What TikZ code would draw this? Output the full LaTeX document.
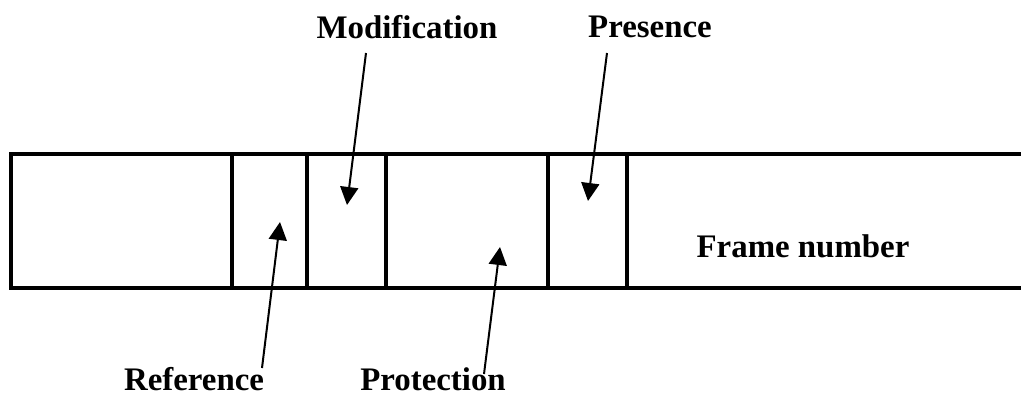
\documentclass[tikz,border=0pt]{standalone}
\usepackage{fontspec}
\setmainfont{Liberation Serif}
\usetikzlibrary{arrows.meta}
\begin{document}
\begin{tikzpicture}[x=1bp,y=-1bp,
  field/.style={line width=3.2bp,line cap=rect},
  pointer/.style={line width=2bp,-{Triangle[length=18bp,width=18bp]}},
  lbl/.style={font=\fontsize{33}{35}\selectfont\bfseries,inner sep=0pt}]
\useasboundingbox (0,0) rectangle (1021,397);
% register fields: open at the right edge
\draw[field] (1030,154) -- (11,154) -- (11,288) -- (1030,288);
\foreach \x in {232,307,386,548,627}
  \draw[field] (\x,154) -- (\x,288);
% labels
\node[lbl] (fn) at (803,246) {Frame number};
\node[lbl] (mod) at (407,27) {Modification};
\node[lbl] (pres) at (650,27) {Presence};
\node[lbl] (ref) at (194,379) {Reference};
\node[lbl] (prot) at (433,379) {Protection};
% pointer ends
\coordinate (modA) at (366,53);
\coordinate (modB) at (347,205);
\coordinate (presA) at (607,53);
\coordinate (presB) at (588,201);
\coordinate (refA) at (262,368);
\coordinate (refB) at (280,222);
\coordinate (protA) at (484,374);
\coordinate (protB) at (500,247);
\draw[pointer] (modA) -- (modB);
\draw[pointer] (presA) -- (presB);
\draw[pointer] (refA) -- (refB);
\draw[pointer] (protA) -- (protB);
\end{tikzpicture}
\end{document}
